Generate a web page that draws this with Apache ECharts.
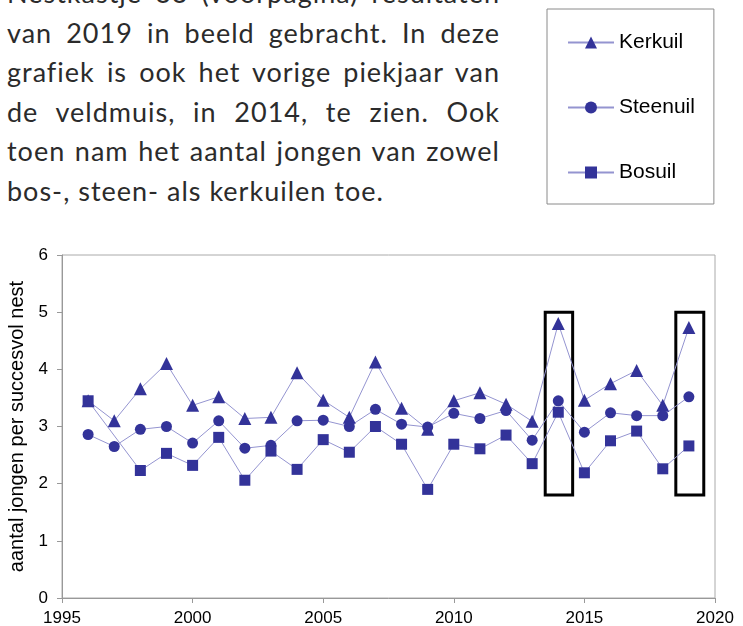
<!DOCTYPE html>
<html>
<head>
<meta charset="utf-8">
<script src="https://cdn.jsdelivr.net/npm/echarts@6/dist/echarts.min.js"></script>
<style>
  html, body { margin: 0; padding: 0; background: #fff; }
  #wrap { position: relative; width: 743px; height: 626px; overflow: hidden; }
  #text { position: absolute; left: 7px; top: -27px; width: 493px;
          font-family: Lato, "Open Sans", sans-serif; font-size: 27px; letter-spacing: 1px;
          line-height: 39.6px; color: #2b2b2b; }
  #text div { text-align: justify; text-align-last: justify; white-space: nowrap; }
  #text div.last { text-align-last: left; }
  #chart { position: absolute; left: 0; top: 0; width: 743px; height: 626px; }
</style>
</head>
<body>
<div id="wrap">
  <div id="text">
    <div>Nestkastje 33 (voorpagina) resultaten</div>
    <div>van 2019 in beeld gebracht. In deze</div>
    <div>grafiek is ook het vorige piekjaar van</div>
    <div>de veldmuis, in 2014, te zien. Ook</div>
    <div>toen nam het aantal jongen van zowel</div>
    <div class="last">bos-, steen- als kerkuilen toe.</div>
  </div>
  <div id="chart"></div>
</div>
<script>
var years = [1996, 1997, 1998, 1999, 2000, 2001, 2002, 2003, 2004, 2005, 2006, 2007,
             2008, 2009, 2010, 2011, 2012, 2013, 2014, 2015, 2016, 2017, 2018, 2019];
var kerkuil  = [3.45, 3.10, 3.66, 4.10, 3.37, 3.52, 3.14, 3.16, 3.94, 3.46, 3.16, 4.13,
                3.32, 2.95, 3.45, 3.59, 3.39, 3.09, 4.80, 3.46, 3.75, 3.98, 3.37, 4.73];
var steenuil = [2.86, 2.65, 2.95, 3.00, 2.71, 3.10, 2.62, 2.67, 3.10, 3.11, 3.00, 3.30,
                3.04, 2.99, 3.23, 3.14, 3.28, 2.76, 3.45, 2.90, 3.24, 3.19, 3.19, 3.52];
var bosuil   = [3.45, null, 2.23, 2.53, 2.32, 2.81, 2.06, 2.57, 2.25, 2.77, 2.55, 3.00,
                2.69, 1.90, 2.69, 2.61, 2.85, 2.35, 3.25, 2.19, 2.75, 2.92, 2.26, 2.66];
// highlighted peak years (veldmuis)
var peakBoxes = [[2013.5, 2014.55], [2018.5, 2019.57]];
var boxRange = [1.8, 5.0];

var markerColor = '#333399';
var lineColor = '#9494d0';
var arial = '"Liberation Sans", Arial, sans-serif';

function pairs(vals) {
  return years.map(function (y, i) { return [y, vals[i]]; });
}

function makeSeries(name, vals, symbol, size) {
  return {
    name: name,
    type: 'line',
    data: pairs(vals),
    connectNulls: true,
    symbol: symbol,
    symbolSize: size,
    showAllSymbol: true,
    lineStyle: { color: lineColor, width: 1 },
    itemStyle: { color: markerColor },
    emphasis: { disabled: true }
  };
}

var series = [
  makeSeries('Kerkuil', kerkuil, 'triangle', 13),
  makeSeries('Steenuil', steenuil, 'circle', 11),
  makeSeries('Bosuil', bosuil, 'rect', 11)
];
series[0].markArea = {
  silent: true,
  itemStyle: { color: 'rgba(0,0,0,0)', borderColor: '#000', borderWidth: 3 },
  data: peakBoxes.map(function (b) {
    return [{ coord: [b[0], boxRange[0]] }, { coord: [b[1], boxRange[1]] }];
  })
};

var chart = echarts.init(document.getElementById('chart'));
chart.setOption({
  animation: false,
  legend: {
    orient: 'vertical',
    left: 547,
    top: 9,
    padding: [23, 19, 21, 20],
    itemGap: 44,
    itemWidth: 46,
    itemHeight: 15,
    borderColor: '#8a8a8a',
    borderWidth: 1,
    selectedMode: false,
    textStyle: { fontSize: 21, color: '#000', fontFamily: arial },
    data: ['Kerkuil', 'Steenuil', 'Bosuil']
  },
  grid: { left: 62, right: 28, top: 255, bottom: 28, outerBoundsMode: 'none',
          show: true, borderColor: '#aaa', borderWidth: 1 },
  xAxis: {
    type: 'value',
    min: 1995,
    max: 2020,
    interval: 5,
    splitLine: { show: false },
    axisLine: { lineStyle: { color: '#999' } },
    axisTick: { length: 5, lineStyle: { color: '#999' } },
    axisLabel: { fontSize: 17, color: '#000', margin: 12, fontFamily: arial,
                 formatter: function (v) { return String(v); } }
  },
  yAxis: {
    type: 'value',
    min: 0,
    max: 6,
    interval: 1,
    name: 'aantal jongen per succesvol nest',
    nameLocation: 'middle',
    nameGap: 31,
    nameTextStyle: { fontSize: 20, color: '#000', fontFamily: arial },
    splitLine: { show: false },
    axisLine: { show: true, lineStyle: { color: '#999' } },
    axisTick: { show: true, length: 5, lineStyle: { color: '#999' } },
    axisLabel: { fontSize: 17, color: '#000', margin: 14, fontFamily: arial }
  },
  series: series
});
</script>
</body>
</html>
